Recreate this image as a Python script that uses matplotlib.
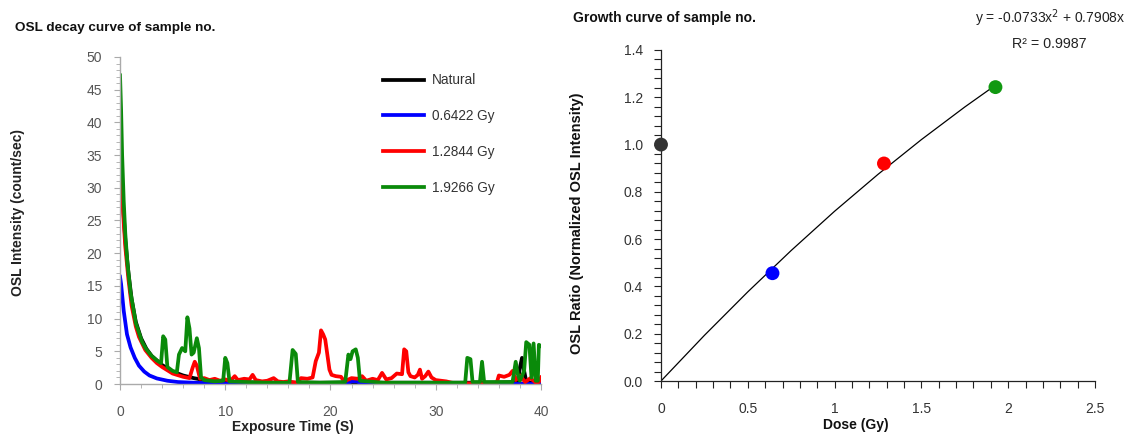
import matplotlib
matplotlib.use('Agg')
import matplotlib.pyplot as plt
from matplotlib.ticker import MultipleLocator, FormatStrFormatter

plt.rcParams['font.family'] = ['Liberation Sans', 'DejaVu Sans']

# ---- OSL decay curves: (time s, intensity counts/sec)
natural_pts = [(0, 33.8), (0.1, 32), (0.2, 29.5), (0.5, 22), (0.8, 17), (1.1, 13), (1.5, 9.5),
               (2.0, 7.0), (2.5, 5.4), (3.0, 4.3), (4.0, 2.9), (5.0, 1.9), (6.0, 1.3), (7.0, 0.9),
               (8.0, 0.6), (10.0, 0.35), (12.0, 0.25), (15.0, 0.2), (20.0, 0.2), (25.0, 0.2),
               (30.0, 0.2), (35.0, 0.2), (37.8, 0.3), (38.0, 2.5), (38.2, 4.0), (38.4, 2.0),
               (38.6, 0.4), (39.0, 0.2), (40.0, 0.2)]

dose1_pts = [(0, 16.4), (0.1, 15.3), (0.35, 11.2), (0.66, 7.6), (1.0, 5.6), (1.4, 4.0), (1.8, 2.8),
             (2.3, 1.9), (2.8, 1.3), (3.5, 0.85), (4.5, 0.5), (5.5, 0.3), (7.0, 0.2), (9.0, 0.1),
             (12.0, 0.05), (16.0, 0.05), (21.5, 0.05), (22.0, 0.4), (22.5, 0.4), (23.0, 0.05),
             (30.0, 0.05), (40.0, 0.05)]

dose2_pts = [(0, 32.7), (0.1, 31.5), (0.2, 28.5), (0.5, 21), (0.8, 16), (1.1, 12), (1.5, 8.8),
             (1.8, 7.2), (2.4, 5.2), (3.0, 4.0), (3.5, 3.2), (4.0, 2.6), (5.0, 1.6), (6.0, 1.1),
             (6.6, 0.9), (6.9, 2.5), (7.1, 3.4), (7.3, 2.8), (7.6, 0.8), (8.0, 0.9), (8.5, 0.6),
             (9.0, 0.8), (9.5, 0.5), (10.0, 0.7), (10.5, 0.5), (10.9, 1.2), (11.2, 0.6), (11.8, 0.8),
             (12.3, 0.7), (12.6, 1.4), (12.9, 0.6), (13.5, 0.4), (14.0, 0.5), (14.6, 0.9), (15.0, 0.4),
             (15.5, 0.3), (16.0, 0.4), (16.8, 0.2), (17.2, 0.9), (17.8, 0.8), (18.3, 1.0), (18.6, 3.5),
             (18.9, 4.8), (19.1, 8.2), (19.3, 7.6), (19.5, 6.8), (19.7, 4.5), (19.9, 2.2), (20.1, 1.4),
             (20.5, 1.2), (21.0, 1.1), (21.3, 0.4), (22.0, 0.9), (22.6, 0.8), (23.0, 1.2), (23.4, 0.5),
             (24.0, 0.8), (24.5, 0.6), (24.9, 1.7), (25.3, 0.7), (25.8, 0.9), (26.3, 1.6), (26.8, 1.5),
             (27.0, 5.3), (27.2, 5.0), (27.4, 1.8), (27.6, 1.2), (28.0, 1.0), (28.3, 1.4), (28.5, 2.2),
             (28.7, 0.8), (29.0, 1.2), (29.3, 1.9), (29.6, 1.0), (30.0, 0.6), (30.5, 0.5), (31.0, 0.4),
             (31.5, 0.2), (32.0, 0.1), (33.0, 0.1), (34.0, 0.1), (35.0, 0.1), (35.8, 0.2), (36.0, 1.3),
             (36.5, 1.1), (37.0, 1.4), (37.3, 2.0), (37.6, 0.6), (38.0, 1.3), (38.5, 0.3), (39.0, 0.9),
             (39.5, 0.2), (39.8, 0.3), (40.0, 1.0)]

dose3_pts = [(0, 47.2), (0.1, 42), (0.2, 35), (0.35, 28), (0.5, 23), (0.7, 18.5), (1.0, 14),
             (1.5, 9.3), (2.1, 6.4), (2.5, 5.3), (3.0, 4.3), (3.5, 3.6), (3.9, 3.2), (4.1, 7.3),
             (4.3, 6.8), (4.5, 2.6), (5.0, 2.0), (5.4, 1.8), (5.6, 4.5), (5.9, 5.5), (6.2, 5.0),
             (6.4, 10.2), (6.6, 8.5), (6.8, 4.5), (7.0, 4.8), (7.3, 7.0), (7.5, 5.5), (7.7, 1.0),
             (8.0, 0.6), (9.0, 0.4), (9.8, 0.5), (10.0, 4.0), (10.2, 3.2), (10.4, 0.4), (12.0, 0.3),
             (14.0, 0.2), (16.1, 0.2), (16.4, 5.2), (16.7, 4.6), (16.9, 0.3), (19.0, 0.2), (21.4, 0.3),
             (21.7, 4.5), (21.9, 3.8), (22.1, 5.0), (22.4, 5.3), (22.6, 4.0), (22.8, 0.5), (25.0, 0.2),
             (30.0, 0.2), (32.8, 0.2), (33.0, 4.0), (33.3, 3.8), (33.5, 0.3), (34.2, 0.3), (34.4, 3.4),
             (34.6, 0.3), (37.3, 0.3), (37.6, 3.4), (37.8, 1.5), (38.0, 0.5), (38.4, 2.0), (38.6, 6.4),
             (38.9, 6.0), (39.1, 1.0), (39.3, 6.2), (39.5, 0.5), (39.7, 0.5), (39.8, 6.0), (40.0, 5.8)]

decay_labels = ['Natural', '0.6422 Gy', '1.2844 Gy', '1.9266 Gy']
decay_colors = ['black', '#0000ff', '#ff0000', '#0a8a0a']

# ---- growth curve
doses = [0, 0.6422, 1.2844, 1.9266]
ratios = [1.0, 0.456, 0.92, 1.243]
point_colors = ['#333333', '#0000ff', '#ff0000', '#119911']
fit_x = [0, 0.25, 0.5, 0.75, 1.0, 1.25, 1.5, 1.75, 1.9266]
fit_y = [0, 0.193, 0.377, 0.552, 0.718, 0.874, 1.021, 1.159, 1.251]

fig = plt.figure(figsize=(11.27, 4.34), dpi=100)

# ---------------- left: decay curve ----------------
ax1 = fig.add_axes([0.1065, 0.1152, 0.3735, 0.7535])
for pts, lab, col in zip([natural_pts, dose1_pts, dose2_pts, dose3_pts], decay_labels, decay_colors):
    t = [p[0] for p in pts]
    v = [p[1] for p in pts]
    ax1.plot(t, v, color=col, lw=2.7, label=lab, solid_joinstyle='round')

ax1.set_xlim(0, 40)
ax1.set_ylim(0, 50)
ax1.xaxis.set_major_locator(MultipleLocator(10))
ax1.xaxis.set_minor_locator(MultipleLocator(2))
ax1.yaxis.set_major_locator(MultipleLocator(5))
ax1.yaxis.set_minor_locator(MultipleLocator(1))
for s in ['top', 'right']:
    ax1.spines[s].set_visible(False)
for s in ['left', 'bottom']:
    ax1.spines[s].set_color('#aaaaaa')
    ax1.spines[s].set_linewidth(1.0)
ax1.tick_params(which='both', direction='out', colors='#aaaaaa', labelcolor='#555555', labelsize=10)
ax1.tick_params(axis='y', which='major', length=4, pad=9)
ax1.tick_params(axis='y', which='minor', length=3)
ax1.tick_params(axis='x', which='major', length=4, pad=11)
ax1.tick_params(axis='x', which='minor', length=3)
ax1.set_xlabel('Exposure Time (S)', fontsize=10, fontweight='bold', color='#222222')
ax1.xaxis.set_label_coords(0.26, 0.032, transform=fig.transFigure)
ax1.set_ylabel('OSL Intensity (count/sec)', fontsize=10, fontweight='bold', color='#222222')
ax1.yaxis.set_label_coords(0.0225, 0.511, transform=fig.transFigure)

ax1.legend(loc='upper left', bbox_to_anchor=(0.340, 0.831), bbox_transform=fig.transFigure,
           frameon=False, borderpad=0, borderaxespad=0, handlelength=3.0, handletextpad=0.6,
           labelspacing=1.6, prop={'size': 9.8}, labelcolor='#333333')

fig.text(0.0133, 0.935, 'OSL decay curve of sample no.', fontsize=9.7, fontweight='bold', color='#111111',
         va='center', ha='left')

# ---------------- right: growth curve ----------------
ax2 = fig.add_axes([0.5865, 0.1221, 0.3851, 0.7627])
ax2.plot(fit_x, fit_y, color='black', lw=0.9, zorder=2)
ax2.scatter(doses, ratios, s=100, c=point_colors, zorder=3, clip_on=False, linewidths=0)

ax2.set_xlim(0, 2.5)
ax2.set_ylim(0, 1.4)
ax2.xaxis.set_major_locator(MultipleLocator(0.5))
ax2.xaxis.set_minor_locator(MultipleLocator(0.1))
ax2.yaxis.set_major_locator(MultipleLocator(0.2))
ax2.yaxis.set_minor_locator(MultipleLocator(0.04))
ax2.xaxis.set_major_formatter(FormatStrFormatter('%g'))
ax2.yaxis.set_major_formatter(FormatStrFormatter('%.1f'))
for s in ['top', 'right']:
    ax2.spines[s].set_visible(False)
for s in ['left', 'bottom']:
    ax2.spines[s].set_color('#222222')
    ax2.spines[s].set_linewidth(0.9)
ax2.tick_params(which='both', direction='out', length=5, width=0.8, colors='#222222',
                labelcolor='#333333', labelsize=10)
ax2.tick_params(axis='y', which='both', pad=8)
ax2.tick_params(axis='x', which='both', pad=10)
ax2.set_xlabel('Dose (Gy)', fontsize=10, fontweight='bold', color='#111111')
ax2.xaxis.set_label_coords(0.7595, 0.036, transform=fig.transFigure)
ax2.set_ylabel('OSL Ratio (Normalized OSL Intensity)', fontsize=10.5, fontweight='bold', color='#111111')
ax2.yaxis.set_label_coords(0.5185, 0.485, transform=fig.transFigure)

fig.text(0.5085, 0.958, 'Growth curve of sample no.', fontsize=10, fontweight='bold', color='#111111',
         va='center', ha='left')
fig.text(0.999, 0.958, 'y = -0.0733x$^2$ + 0.7908x', fontsize=10, color='#222222',
         va='center', ha='right')
fig.text(0.9645, 0.898, 'R² = 0.9987', fontsize=10.3, color='#222222', va='center', ha='right')

fig.savefig('out.png', dpi=100)
